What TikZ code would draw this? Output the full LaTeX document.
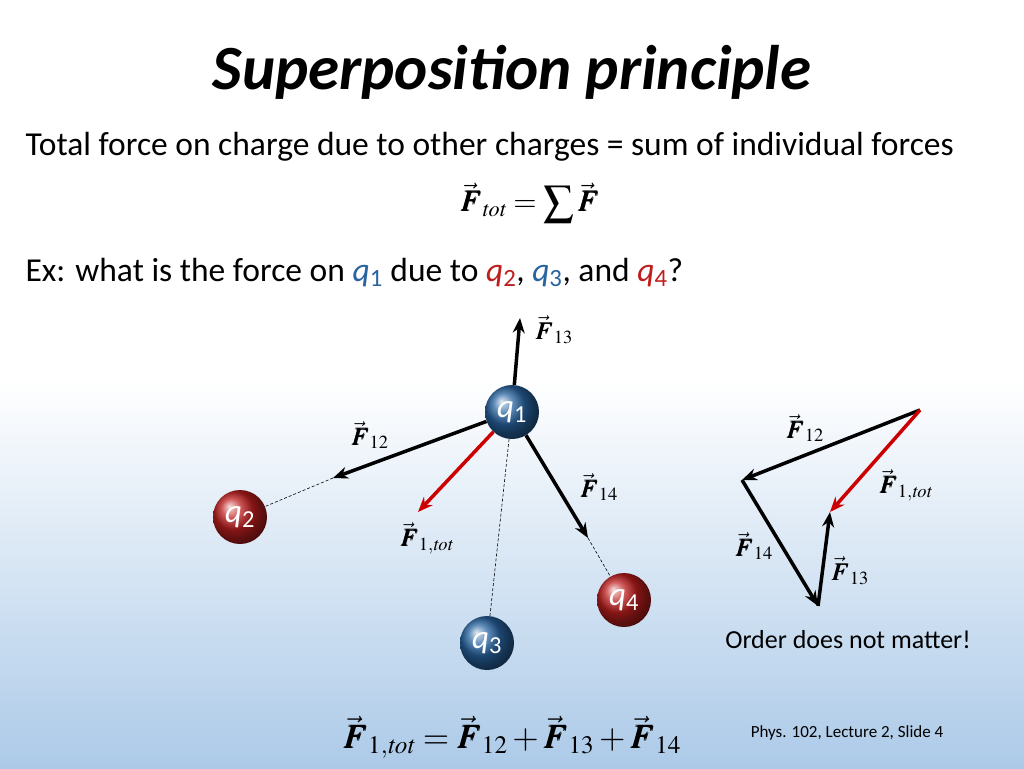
\documentclass[tikz,border=0pt]{standalone}
\usepackage{mathptmx}
\usepackage{bm}
\usepackage[no-math]{fontspec}
\setmainfont{Carlito}
\usetikzlibrary{arrows.meta}
\definecolor{qblue}{RGB}{40,100,160}
\definecolor{qred}{RGB}{190,30,30}
\definecolor{skyblue}{RGB}{172,202,232}
\newcommand{\Fv}[1]{\vec{\bm{F}}_{#1}}
\tikzset{
  force/.style={line width=3.5pt, -{Stealth[length=15pt,width=12pt]}},
  total/.style={force, draw=red!80!black},
  link/.style={densely dashed, line width=0.6pt},
  charge/.style={circle, minimum size=54pt, inner sep=0pt, text=white, font=\fontsize{33}{35}\selectfont},
  flabel/.style={font=\fontsize{25}{27}\selectfont}
}
\begin{document}
\begin{tikzpicture}[x=1pt,y=-1pt]
        % Background
        \fill[white] (0,0) rectangle (1024,380);
        \shade[top color=white, bottom color=skyblue] (0,380) rectangle (1024,768);
        \useasboundingbox (0,0) rectangle (1024,768);

        % Texts
        \node[font=\fontsize{63}{66}\selectfont\bfseries\itshape] (title) at (512,72) {Superposition principle};
        \node[anchor=west, font=\fontsize{33.5}{36}\selectfont] (intro) at (22,147) {Total force on charge due to other charges = sum of individual forces};
        \node[font=\fontsize{30}{32}\selectfont] (sum) at (530,203) {$\displaystyle\Fv{\mathit{tot}}=\sum\vec{\bm{F}}$};
        \node[anchor=west, font=\fontsize{33.5}{36}\selectfont] (question) at (22,273) {Ex: what is the force on \textcolor{qblue}{\textit{q}\textsubscript{1}} due to \textcolor{qred}{\textit{q}\textsubscript{2}}, \textcolor{qblue}{\textit{q}\textsubscript{3}}, and \textcolor{qred}{\textit{q}\textsubscript{4}}?};

        % Charges
        \node[charge, ball color=qblue] (q1) at (512,412) {\textit{q}\textsubscript{1}};
        \node[charge, ball color=qred] (q2) at (240,517) {\textit{q}\textsubscript{2}};
        \node[charge, ball color=qblue] (q3) at (487,643) {\textit{q}\textsubscript{3}};
        \node[charge, ball color=qred] (q4) at (624,600) {\textit{q}\textsubscript{4}};
        \coordinate (t13) at (520,318);
        \coordinate (t12) at (333,478);
        \coordinate (t14) at (588,538);
        \coordinate (ttot) at (418,512);

        % Forces on q1
        \draw[link] (t12) -- (q2);
        \draw[link] (q1) -- (q3);
        \draw[link] (t14) -- (q4);
        \draw[force] (q1) -- (t13);
        \draw[force] (q1) -- (t12);
        \draw[force] (q1) -- (t14);
        \draw[total] (q1) -- (ttot);
        \node[flabel] (l13) at (554,330) {$\Fv{13}$};
        \node[flabel] (l12) at (370,435) {$\Fv{12}$};
        \node[flabel] (l14) at (599,487) {$\Fv{14}$};
        \node[flabel] (ltot) at (427,538) {$\Fv{1,\mathit{tot}}$};

        % Vector sum
        \coordinate (a) at (920,410);
        \coordinate (b) at (742,480);
        \coordinate (c) at (818,606);
        \coordinate (d) at (830,512);
        \draw[force] (a) -- (b);
        \draw[force] (b) -- (c);
        \draw[force] (c) -- (d);
        \draw[total] (a) -- (d);
        \node[flabel] (s12) at (805,428) {$\Fv{12}$};
        \node[flabel] (stot) at (906,485) {$\Fv{1,\mathit{tot}}$};
        \node[flabel] (s14) at (754,546) {$\Fv{14}$};
        \node[flabel] (s13) at (850,571) {$\Fv{13}$};
        \node[font=\fontsize{26}{28}\selectfont] (order) at (848,640) {Order does not matter!};

        % Result
        \node[font=\fontsize{34}{36}\selectfont] (result) at (512,737) {$\Fv{1,\mathit{tot}}=\Fv{12}+\Fv{13}+\Fv{14}$};
        \node[font=\fontsize{17}{19}\selectfont] (slide) at (847,733) {Phys. 102, Lecture 2, Slide 4};
    \end{tikzpicture}
\end{document}
